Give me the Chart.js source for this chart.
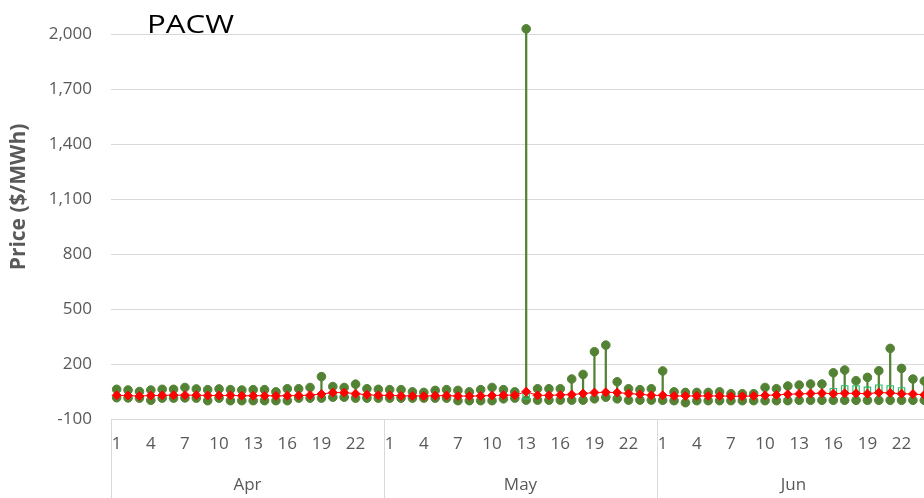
<!DOCTYPE html>
<html>
<head>
<meta charset="utf-8">
<script src="https://cdn.jsdelivr.net/npm/chart.js@4"></script>
<style>
  html, body { margin: 0; padding: 0; background: #fff; overflow: hidden; }
  #wrap { position: relative; width: 940px; height: 498px; }
</style>
</head>
<body>
<div id="wrap"><canvas id="priceChart"></canvas></div>
<script>
// categorias: 24 dias por mês
const months = ['Apr', 'May', 'Jun'];
const days = [1, 2, 3, 4, 5, 6, 7, 8, 9, 10, 11, 12, 13, 14, 15, 16, 17, 18, 19, 20, 21, 22, 23, 24];

// preços ($/MWh)
const aprMax = [62, 58, 50, 58, 62, 62, 72, 64, 60, 64, 60, 58, 60, 60, 48, 65, 65, 72, 131, 77, 72, 90, 65, 62];
const aprAvg = [29, 28, 25, 28, 29, 30, 30, 30, 28, 28, 29, 27, 27, 27, 26, 27, 28, 30, 36, 44, 44, 38, 32, 29];
const aprMin = [16, 15, 14, 2, 14, 14, 15, 14, 0, 14, 0, 0, 0, 0, 0, 0, 14, 14, 14, 19, 19, 14, 14, 14];

const mayMax = [60, 60, 48, 45, 56, 60, 56, 48, 60, 72, 60, 48, 2028, 65, 65, 65, 118, 143, 267, 303, 103, 65, 60, 65];
const mayAvg = [29, 26, 26, 25, 27, 28, 25, 25, 26, 28, 30, 30, 49, 29, 29, 31, 33, 39, 44, 46, 44, 39, 35, 29];
const mayMin = [14, 14, 14, 14, 14, 14, 0, 0, 0, 0, 10, 14, 3, 3, 3, 3, 3, 3, 10, 19, 10, 3, 3, 3];

const junMax = [162, 48, 45, 45, 45, 48, 38, 38, 38, 72, 65, 80, 85, 91, 91, 152, 167, 109, 127, 163, 285, 176, 118, 107];
const junAvg = [29, 26, 26, 26, 26, 26, 24, 24, 26, 29, 31, 35, 37, 39, 41, 38, 40, 40, 38, 44, 42, 38, 36, 32];
const junMin = [2, 0, -11, 0, 0, 0, 0, 0, 0, 0, 0, 0, 2, 2, 2, 2, 2, 2, 2, 2, 2, 2, 2, 2];

// pequenos quadrados verdes (só onde aparecem)
const mayClose = [null, null, null, null, null, null, null, null, null, null, null, null, 27, null, null, null, null, null, null, null, null, null, null, null];
const junClose = [null, null, null, null, null, null, null, null, null, null, null, null, null, null, null, 49, 64, 64, 57, 68, 64, 53, null, null];

const yTicks = [-100, 200, 500, 800, 1100, 1400, 1700, 2000];

const labels = [];
months.forEach(m => days.forEach(d => labels.push(m + ' ' + d)));
const maxData = aprMax.concat(mayMax, junMax);
const avgData = aprAvg.concat(mayAvg, junAvg);
const minData = aprMin.concat(mayMin, junMin);
const closeData = new Array(24).fill(null).concat(mayClose, junClose);
const rangeData = maxData.map((v, i) => [minData[i], v]);

const GREEN = '#548235';
const GRID = '#D9D9D9';
const TEXT = '#595959';

Chart.defaults.font.family = '"Open Sans", sans-serif';
Chart.defaults.font.size = 17;
Chart.defaults.color = TEXT;

// eixo de categorias em dois níveis + títulos
const decorations = {
    id: 'decorations',
    afterDraw(chart) {
        const { ctx, chartArea, scales } = chart;
        const x = scales.x;
        const half = (x.getPixelForValue(1) - x.getPixelForValue(0)) / 2;
        ctx.save();
        ctx.strokeStyle = GRID;
        ctx.lineWidth = 1;
        ctx.fillStyle = TEXT;
        ctx.font = '17px "Open Sans", sans-serif';
        ctx.textAlign = 'center';
        ctx.textBaseline = 'middle';
        months.forEach((m, g) => {
            const left = x.getPixelForValue(g * days.length) - half;
            const right = x.getPixelForValue(g * days.length + days.length - 1) + half;
            [left, right].forEach(px => {
                const p = Math.round(px) + 0.5;
                ctx.beginPath();
                ctx.moveTo(p, chartArea.bottom);
                ctx.lineTo(p, chart.height);
                ctx.stroke();
            });
            ctx.fillText(m, (left + right) / 2, chartArea.bottom + 66);
        });

        // título do eixo y
        ctx.save();
        ctx.translate(19, 197);
        ctx.rotate(-Math.PI / 2);
        ctx.font = 'bold 21px "Open Sans", sans-serif';
        ctx.fillText('Price ($/MWh)', 0, 0);
        ctx.restore();

        // título
        ctx.save();
        ctx.fillStyle = '#000';
        ctx.textAlign = 'left';
        ctx.textBaseline = 'alphabetic';
        ctx.translate(147, 33);
        ctx.scale(1.2, 1);
        ctx.font = '26px "Open Sans", sans-serif';
        ctx.fillText('PACW', 0, 0);
        ctx.restore();

        ctx.restore();
    }
};

const ctx = document.getElementById('priceChart').getContext('2d');
new Chart(ctx, {
    type: 'bar',
    data: {
        labels: labels,
        datasets: [
            {
                type: 'line',
                label: 'Average',
                data: avgData,
                borderColor: '#FF0000',
                borderWidth: 1,
                backgroundColor: '#FF0000',
                pointStyle: 'rectRot',
                pointRadius: 4.5,
                pointBorderWidth: 1,
                order: 1
            },
            {
                type: 'line',
                label: 'Close',
                data: closeData,
                showLine: false,
                borderColor: '#2DBE6C',
                backgroundColor: 'rgba(255,255,255,0)',
                pointStyle: 'rect',
                pointRadius: 4.5,
                pointBorderWidth: 1.2,
                order: 2
            },
            {
                type: 'line',
                label: 'High',
                data: maxData,
                showLine: false,
                clip: false,
                borderColor: GREEN,
                backgroundColor: GREEN,
                pointRadius: 4.3,
                pointBorderWidth: 1,
                order: 3
            },
            {
                type: 'line',
                label: 'Low',
                data: minData,
                showLine: false,
                borderColor: GREEN,
                backgroundColor: GREEN,
                pointRadius: 4.3,
                pointBorderWidth: 1,
                order: 4
            },
            {
                label: 'Range',
                data: rangeData,
                clip: false,
                backgroundColor: GREEN,
                borderWidth: 0,
                barThickness: 1.6,
                order: 5
            }
        ]
    },
    options: {
        responsive: true,
        maintainAspectRatio: false,
        animation: false,
        layout: {
            padding: { top: 34, right: 10, left: 0, bottom: 0 }
        },
        plugins: {
            legend: { display: false },
            tooltip: { enabled: false }
        },
        scales: {
            x: {
                offset: true,
                grid: { display: false, drawTicks: false },
                border: { display: false },
                ticks: {
                    autoSkip: false,
                    maxRotation: 0,
                    minRotation: 0,
                    padding: 15,
                    callback: function(value, index) {
                        const d = days[index % days.length];
                        return (d - 1) % 3 === 0 ? String(d) : '';
                    }
                },
                afterFit: function(scale) { scale.height = 79; }
            },
            y: {
                min: -100,
                max: 2000,
                afterBuildTicks: function(scale) {
                    scale.ticks = yTicks.map(v => ({ value: v }));
                },
                grid: { color: GRID, drawTicks: false },
                border: { display: false },
                ticks: {
                    padding: 19,
                    callback: v => v.toLocaleString('en-US')
                },
                afterFit: function(scale) { scale.width = 111; }
            }
        }
    },
    plugins: [decorations]
});
</script>
</body>
</html>
